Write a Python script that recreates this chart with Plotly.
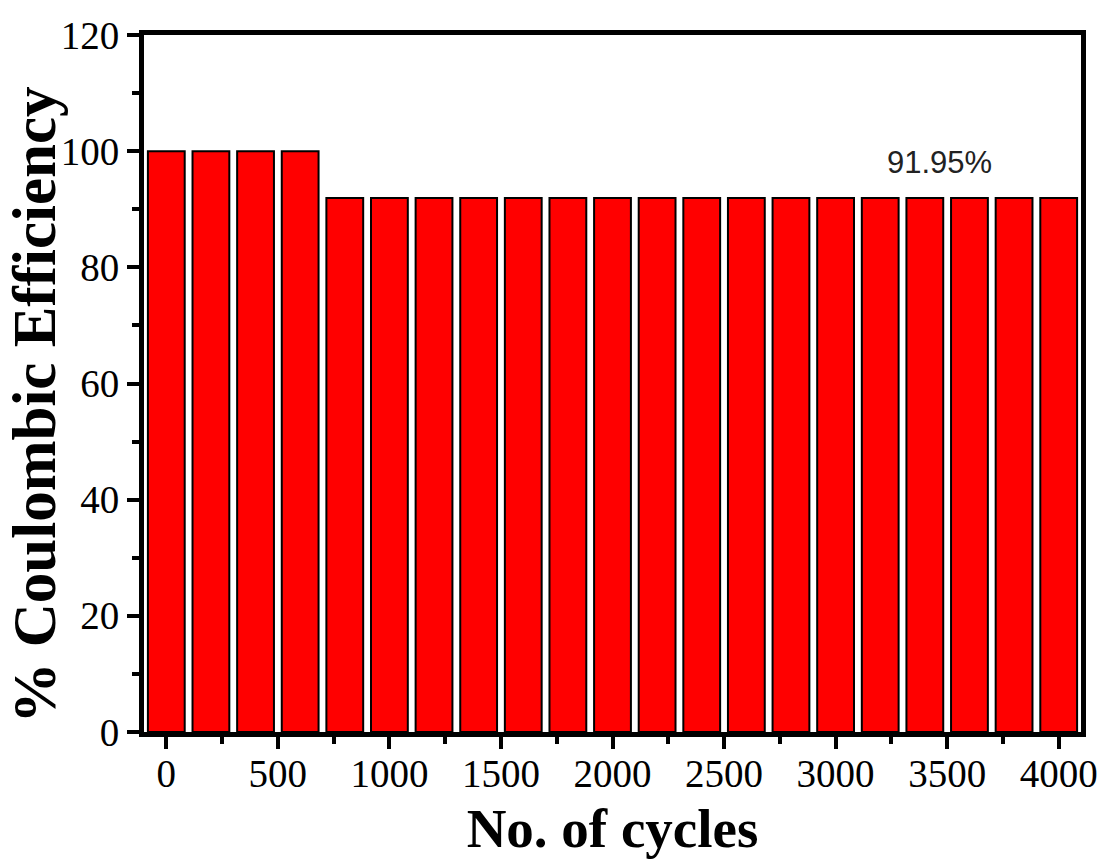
import plotly.graph_objects as go

cycles = [0, 200, 400, 600, 800, 1000, 1200, 1400, 1600, 1800, 2000,
          2200, 2400, 2600, 2800, 3000, 3200, 3400, 3600, 3800, 4000]
efficiency = [100, 100, 100, 100] + [91.95] * 17
x_ticks = [0, 500, 1000, 1500, 2000, 2500, 3000, 3500, 4000]
y_ticks = [0, 20, 40, 60, 80, 100, 120]
label_text = "91.95%"
x_title = "No. of cycles"
y_title = "% Coulombic Efficiency"

fig = go.Figure()
fig.add_trace(go.Bar(
    x=cycles, y=efficiency, width=165,
    marker=dict(color="#FF0000", line=dict(color="black", width=2)),
))

serif = "Liberation Serif, Times New Roman, serif"
fig.update_layout(
    width=1110, height=864,
    margin=dict(l=144, r=25, t=35, b=132),
    plot_bgcolor="white", paper_bgcolor="white",
    showlegend=False,
    font=dict(family=serif, color="black"),
)
fig.update_xaxes(
    range=[-100, 4100], tickvals=x_ticks, ticktext=[str(v) for v in x_ticks],
    showline=True, mirror=True, linecolor="black", linewidth=5,
    ticks="outside", ticklen=12, tickwidth=4, tickcolor="black",
    minor=dict(ticks="outside", ticklen=7, tickwidth=4, tickcolor="black", dtick=250, tick0=250, showgrid=False),
    showgrid=False, zeroline=False,
    tickfont=dict(family=serif, size=39), ticklabelstandoff=-9,
    title=dict(text="<b>" + x_title + "</b>", font=dict(family=serif, size=55), standoff=16),
)
fig.update_yaxes(
    range=[0, 120], tickvals=y_ticks,
    showline=True, mirror=True, linecolor="black", linewidth=5,
    ticks="outside", ticklen=12, tickwidth=4, tickcolor="black",
    minor=dict(ticks="outside", ticklen=7, tickwidth=4, tickcolor="black", dtick=10, tick0=10, showgrid=False),
    showgrid=False, zeroline=False,
    tickfont=dict(family=serif, size=39),
)
fig.add_annotation(
    x=0, y=0.5, xref="paper", yref="paper", xanchor="center", yanchor="middle",
    xshift=-110, yshift=-22, textangle=-90, showarrow=False,
    text="<b>" + y_title + "</b>",
    font=dict(family=serif, size=61, color="black"),
)
fig.add_annotation(
    x=3465, y=98, xref="x", yref="y", text=label_text, showarrow=False,
    font=dict(family="Liberation Sans, Arial, sans-serif", size=31, color="#222222"),
)
fig.write_html("out.html", config={"displayModeBar": False},
               post_script="document.body.style.margin='0px';")
